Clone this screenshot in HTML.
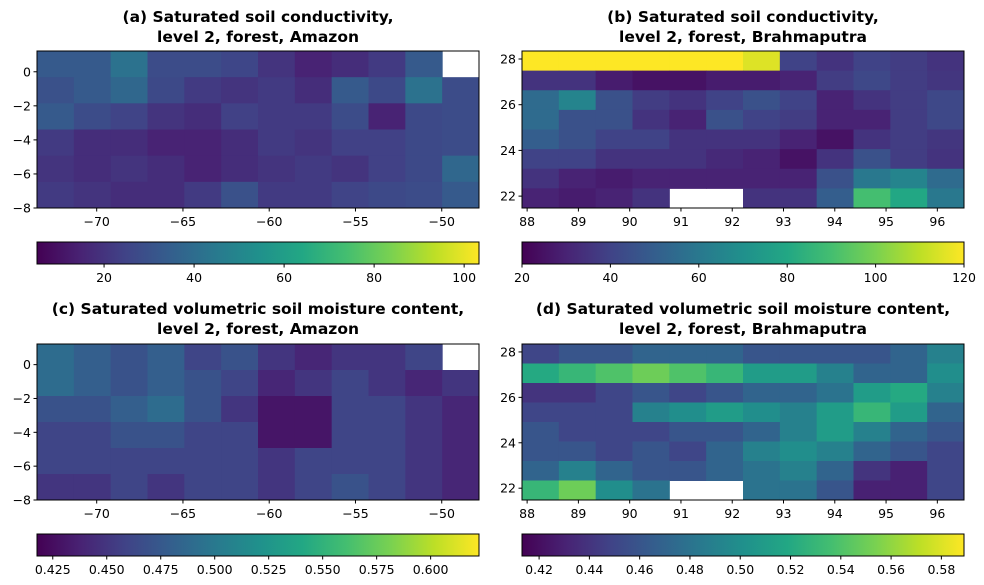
<!DOCTYPE html>
<html><head><meta charset="utf-8">
<style>
html,body{margin:0;padding:0;background:#fff;}
svg{display:block;font-family:"DejaVu Sans","Liberation Sans",sans-serif;}
</style></head>
<body>
<svg id="fig" width="984" height="585" viewBox="0 0 984 585" xmlns="http://www.w3.org/2000/svg"></svg>
<script>
// ---- data ----
const gridA = [
 [33,33,42,28,28,26,20,15,18,22,33,null],
 [30,33,38,27,22,20,22,18,33,27,42,28],
 [33,28,25,20,18,24,22,22,28,15,27,28],
 [22,18,18,15,15,18,22,20,24,24,27,28],
 [20,18,20,18,15,18,20,22,20,24,27,38],
 [22,20,18,18,22,30,22,22,25,27,28,33]];
const gridB = [
 [120,120,120,120,120,120,115,40,35,40,38,35],
 [35,35,28,25,25,28,28,30,38,42,38,36],
 [55,65,45,38,35,40,45,40,30,35,38,42],
 [55,45,45,35,30,45,40,38,30,30,38,42],
 [50,45,40,40,35,35,35,30,25,35,38,36],
 [40,40,35,35,35,32,30,25,35,45,38,35],
 [35,30,28,30,30,30,30,30,45,60,65,55],
 [30,28,30,35,null,null,35,35,50,90,80,60]];
const gridC = [
 [.49,.48,.47,.48,.46,.47,.45,.44,.45,.45,.46,null],
 [.49,.48,.47,.48,.47,.46,.44,.45,.46,.45,.44,.45],
 [.47,.47,.48,.49,.47,.45,.43,.43,.46,.46,.45,.44],
 [.46,.46,.47,.47,.46,.46,.43,.43,.46,.46,.45,.44],
 [.46,.46,.46,.46,.46,.46,.45,.46,.46,.46,.45,.44],
 [.45,.45,.46,.45,.46,.46,.45,.46,.47,.46,.45,.44]];
const gridD = [
 [.45,.46,.46,.47,.47,.47,.46,.46,.46,.46,.47,.49],
 [.52,.53,.54,.55,.54,.53,.51,.51,.49,.47,.47,.50],
 [.44,.44,.45,.46,.45,.46,.47,.47,.48,.51,.52,.49],
 [.45,.45,.45,.49,.50,.51,.50,.49,.51,.53,.51,.47],
 [.46,.45,.45,.45,.46,.46,.47,.49,.51,.49,.47,.46],
 [.46,.46,.45,.46,.45,.47,.49,.50,.49,.47,.46,.45],
 [.47,.49,.47,.46,.46,.47,.48,.49,.47,.44,.43,.45],
 [.53,.55,.50,.48,null,null,.48,.48,.46,.43,.43,.45]];
const amazonXTicks = [-70,-65,-60,-55,-50];
const amazonYTicks = [0,-2,-4,-6,-8];
const brahmaXTicks = [88,89,90,91,92,93,94,95,96];
const brahmaYTicks = [22,24,26,28];
const cbTicksA = [20,40,60,80,100];
const cbTicksB = [20,40,60,80,100,120];
const cbTicksC = [0.425,0.45,0.475,0.5,0.525,0.55,0.575,0.6];
const cbTicksD = [0.42,0.44,0.46,0.48,0.5,0.52,0.54,0.56,0.58];

const NS="http://www.w3.org/2000/svg";
const svg=document.getElementById('fig');
const vir=[[68,1,84],[72,35,116],[64,67,135],[52,94,141],[41,120,142],[32,144,140],[34,167,132],[68,190,112],[121,209,81],[189,223,38],[253,231,37]];
function viridis(t){t=Math.max(0,Math.min(1,t));const s=t*(vir.length-1);const i=Math.min(vir.length-2,Math.floor(s));const f=s-i;const a=vir[i],b=vir[i+1];
 return `rgb(${Math.round(a[0]+(b[0]-a[0])*f)},${Math.round(a[1]+(b[1]-a[1])*f)},${Math.round(a[2]+(b[2]-a[2])*f)})`;}
function mk(tag,attrs,parent){const e=document.createElementNS(NS,tag);for(const k in attrs)e.setAttribute(k,attrs[k]);(parent||svg).appendChild(e);return e;}

function panel(p){
 const g=mk('g',{});
 
 
 const sx=v=>p.x0+(v-p.xmin)/(p.xmax-p.xmin)*(p.x1-p.x0);
 const sy=v=>p.y0+(p.ymax-v)/(p.ymax-p.ymin)*(p.y1-p.y0);
 const rows=p.grid.length, cols=p.grid[0].length;
 const cw=(p.xmax-p.xmin)/cols, rh=(p.ymax-p.ymin)/rows;
 p.grid.forEach((row,r)=>row.forEach((v,c)=>{
   if(v===null)return;
   const xa=sx(p.xmin+c*cw), xb=sx(p.xmin+(c+1)*cw), ya=sy(p.ymax-r*rh), yb=sy(p.ymax-(r+1)*rh);
   const rc=mk('rect',{x:xa,y:ya,width:xb-xa+0.5,height:yb-ya+0.5,fill:viridis((v-p.vmin)/(p.vmax-p.vmin))},g);
   
   
 }));
 mk('rect',{x:p.x0,y:p.y0,width:p.x1-p.x0,height:p.y1-p.y0,fill:'none',stroke:'#000','stroke-width':1},g);
 p.xt.forEach(t=>{const x=sx(t);mk('line',{x1:x,x2:x,y1:p.y1,y2:p.y1+3.5,stroke:'#000'},g);
   const tx=mk('text',{x:x,y:p.y1+18,'font-size':12.5,'text-anchor':'middle'},g);tx.textContent=String(t).replace('-','−');
   });
 p.yt.forEach(t=>{const y=sy(t);mk('line',{x1:p.x0-3.5,x2:p.x0,y1:y,y2:y,stroke:'#000'},g);
   const tx=mk('text',{x:p.x0-6,y:y+4.5,'font-size':12.5,'text-anchor':'end'},g);tx.textContent=String(t).replace('-','−');
   });
 p.title.forEach((l,i)=>{const tx=mk('text',{x:(p.x0+p.x1)/2,y:p.ty+i*20,'font-size':15.5,'font-weight':'bold','text-anchor':'middle'},g);tx.textContent=l;
   });
 const cb=mk('g',{},g);
 
 
 const id='grad'+p.id;
 const lg=mk('linearGradient',{id:id,x1:0,x2:1,y1:0,y2:0},mk('defs',{},cb));
 for(let i=0;i<=10;i++)mk('stop',{offset:i/10,'stop-color':viridis(i/10)},lg);
 mk('rect',{x:p.x0,y:p.cy0,width:p.x1-p.x0,height:p.cy1-p.cy0,fill:`url(#${id})`,stroke:'#000','stroke-width':1},cb);
 const cx=v=>p.x0+(v-p.vmin)/(p.vmax-p.vmin)*(p.x1-p.x0);
 p.ct.forEach(t=>{const x=cx(t);mk('line',{x1:x,x2:x,y1:p.cy1,y2:p.cy1+3.5,stroke:'#000'},cb);
   const tx=mk('text',{x:x,y:p.cy1+18,'font-size':12.5,'text-anchor':'middle'},cb);tx.textContent=p.fmt(t);
   });
}
const fA=t=>String(t);
panel({id:'a',name:'panel-a-conductivity-amazon',grid:gridA,x0:37,x1:479,y0:51,y1:208,xmin:-73.46,xmax:-47.84,ymin:-8,ymax:1.22,
 vmin:5.1,vmax:103.3,xt:amazonXTicks,yt:amazonYTicks,cy0:242,cy1:264,ct:cbTicksA,fmt:fA,ty:22,
 title:['(a) Saturated soil conductivity,','level 2, forest, Amazon']});
panel({id:'b',name:'panel-b-conductivity-brahmaputra',grid:gridB,x0:522,x1:964,y0:51,y1:208,xmin:87.9,xmax:96.52,ymin:21.48,ymax:28.35,
 vmin:20,vmax:120,xt:brahmaXTicks,yt:brahmaYTicks,cy0:242,cy1:264,ct:cbTicksB,fmt:fA,ty:22,
 title:['(b) Saturated soil conductivity,','level 2, forest, Brahmaputra']});
panel({id:'c',name:'panel-c-moisture-amazon',grid:gridC,x0:37,x1:479,y0:344,y1:500,xmin:-73.46,xmax:-47.84,ymin:-8,ymax:1.22,
 vmin:0.4177,vmax:0.6224,xt:amazonXTicks,yt:amazonYTicks,cy0:534,cy1:556,ct:cbTicksC,fmt:t=>t.toFixed(3),ty:314,
 title:['(c) Saturated volumetric soil moisture content,','level 2, forest, Amazon']});
panel({id:'d',name:'panel-d-moisture-brahmaputra',grid:gridD,x0:522,x1:964,y0:344,y1:500,xmin:87.9,xmax:96.52,ymin:21.48,ymax:28.35,
 vmin:0.4132,vmax:0.589,xt:brahmaXTicks,yt:brahmaYTicks,cy0:534,cy1:556,ct:cbTicksD,fmt:t=>t.toFixed(2),ty:314,
 title:['(d) Saturated volumetric soil moisture content,','level 2, forest, Brahmaputra']});
</script>
</body></html>
